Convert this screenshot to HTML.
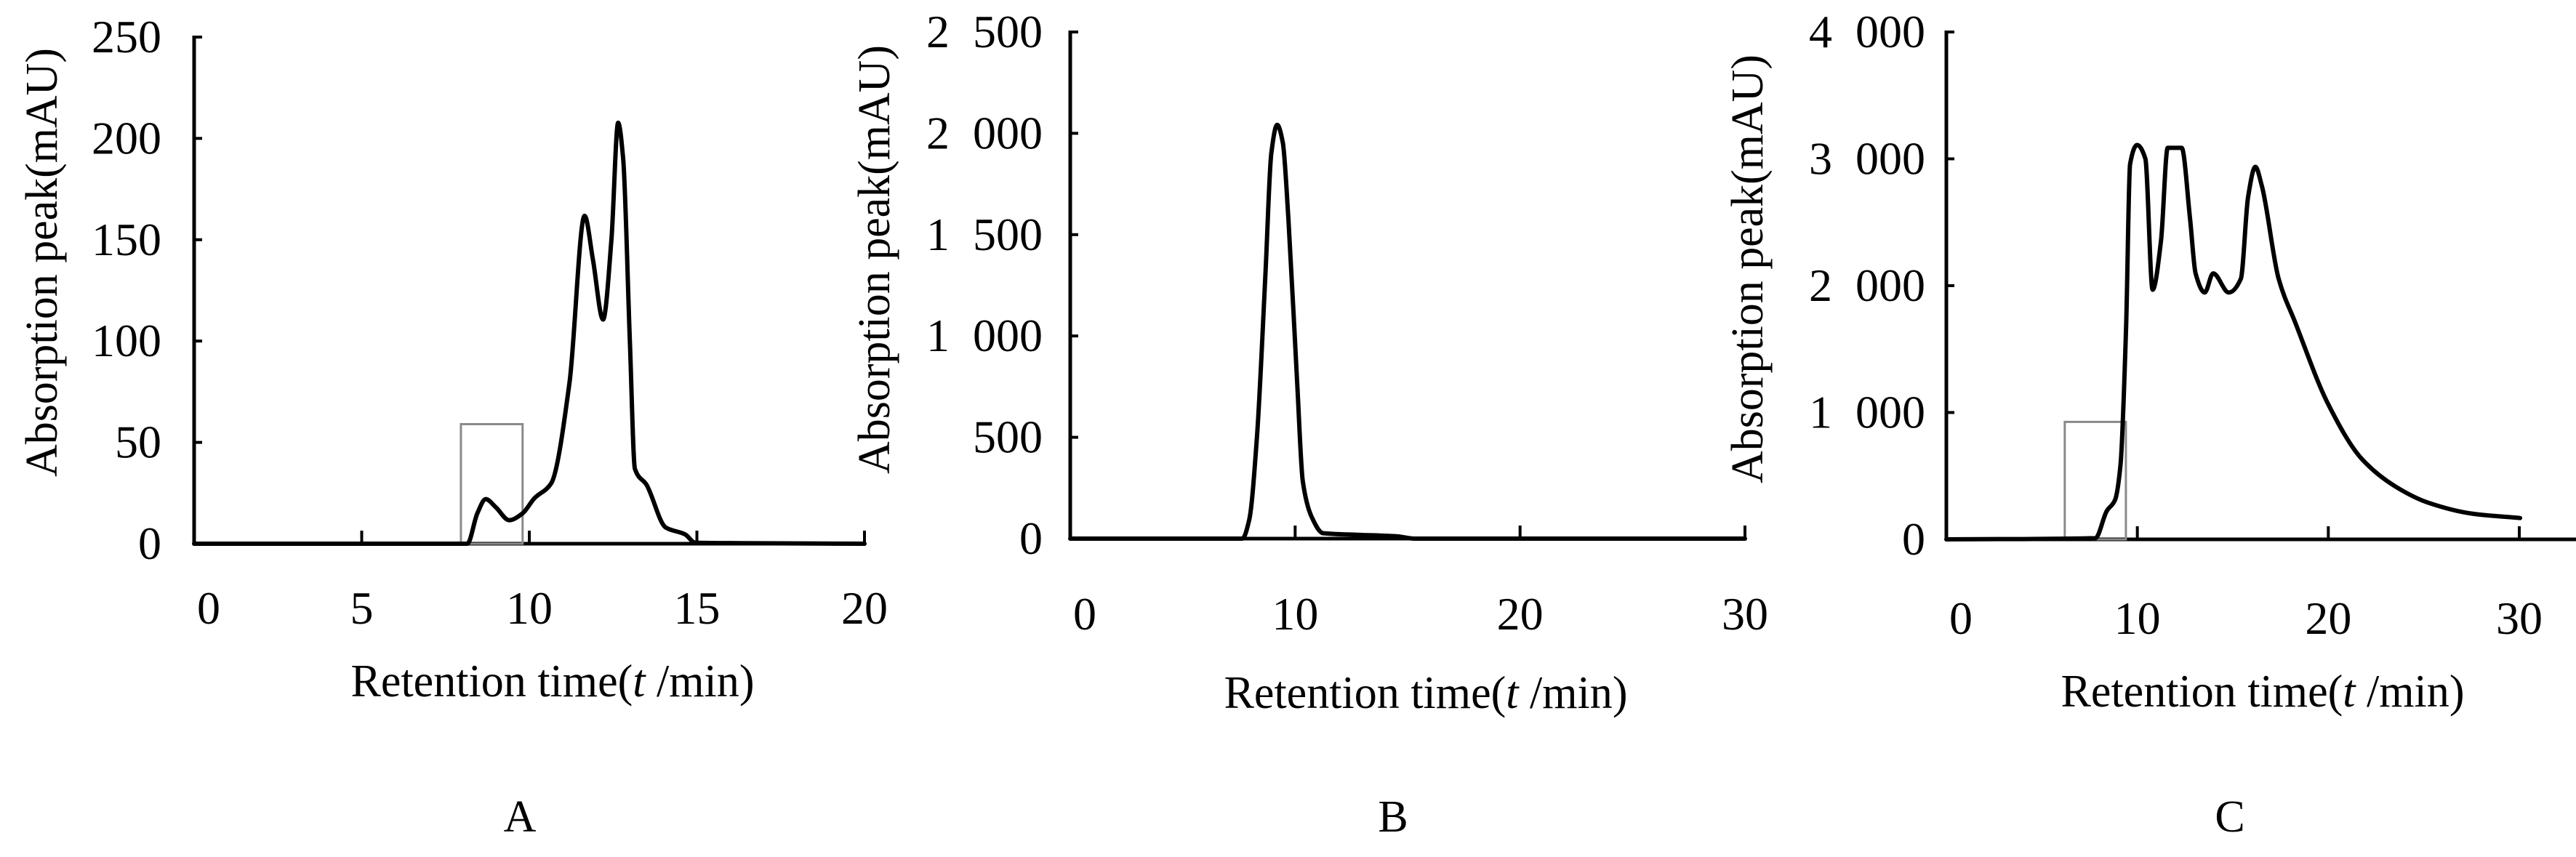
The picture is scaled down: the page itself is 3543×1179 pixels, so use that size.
<!DOCTYPE html>
<html><head><meta charset="utf-8"><style>
html,body{margin:0;padding:0;background:#fff;}
svg{display:block;font-family:"Liberation Serif",serif;}
text{white-space:pre;}
</style></head><body>
<svg id="fig" width="3543" height="1179" viewBox="0 0 3543 1179" xmlns="http://www.w3.org/2000/svg"></svg>
<script>
// Panel A data
const aTime = [0, 8.15, 8.45, 8.7, 9.0, 9.4, 9.8, 10.15, 10.65, 11.2, 11.65, 11.9, 12.2, 12.45, 12.65, 12.8, 13.0, 13.15, 13.5, 14.07, 14.65, 14.95, 16.0, 20];
const aValue = [0, 0, 15, 22, 18, 11.6, 15, 22.4, 29.7, 79.6, 161.8, 140, 110.6, 150, 207.7, 190, 100, 37, 29, 8, 4.6, 0.5, 0.3, 0];
const aYTicks = [0, 50, 100, 150, 200, 250];
const aYLabels = ["0", "50", "100", "150", "200", "250"];
const aXTicks = [0, 5, 10, 15, 20];
const aXLabels = ["0", "5", "10", "15", "20"];
const aBox = [7.96, 9.8, 59];
// Panel B data
const bTime = [0, 7.65, 7.96, 8.3, 8.68, 8.94, 9.2, 9.45, 9.7, 10.09, 10.34, 10.73, 11.24, 12.78, 14.57, 15.3, 30];
const bValue = [0, 0, 94, 499, 1308, 1901, 2042, 1955, 1578, 769, 283, 108, 27, 19, 11, 0, 0];
const bYTicks = [0, 500, 1000, 1500, 2000, 2500];
const bYLabels = ["0", "500", "1  000", "1  500", "2  000", "2  500"];
const bXTicks = [0, 10, 20, 30];
const bXLabels = ["0", "10", "20", "30"];
// Panel C data
const cTime = [0, 7.8, 8.4, 8.83, 9.12, 9.41, 9.62, 9.99, 10.42, 10.8, 11.24, 11.59, 12.32, 12.76, 13.05, 13.53, 13.97, 14.79, 15.42, 15.8, 16.18, 16.52, 17.4, 18.27, 20, 21.76, 23.5, 25.23, 27.56, 30.04];
const cValue = [0, 9, 224, 310, 590, 1666, 2958, 3109, 3001, 1968, 2355, 3087, 3087, 2528, 2097, 1946, 2097, 1946, 2054, 2700, 2937, 2786, 2054, 1709, 1064, 633, 418, 289, 202, 168];
const cYTicks = [0, 1000, 2000, 3000, 4000];
const cYLabels = ["0", "1  000", "2  000", "3  000", "4  000"];
const cXTicks = [0, 10, 20, 30];
const cXLabels = ["0", "10", "20", "30"];
const cBox = [6.2, 9.4, 926];

const NS = "http://www.w3.org/2000/svg";
const svg = document.getElementById('fig');
function el(tag, attrs, parent) {
  const e = document.createElementNS(NS, tag);
  for (const k in attrs) e.setAttribute(k, attrs[k]);
  (parent || svg).appendChild(e);
  return e;
}
// monotone cubic (Fritsch-Carlson) path
function monoPath(pts) {
  const n = pts.length;
  const dx = [], s = [];
  for (let i = 0; i < n - 1; i++) {
    dx.push(pts[i + 1][0] - pts[i][0]);
    s.push((pts[i + 1][1] - pts[i][1]) / dx[i]);
  }
  const m = [s[0]];
  for (let i = 1; i < n - 1; i++) {
    if (s[i - 1] * s[i] <= 0) m.push(0);
    else {
      const w1 = 2 * dx[i] + dx[i - 1], w2 = dx[i] + 2 * dx[i - 1];
      m.push((w1 + w2) / (w1 / s[i - 1] + w2 / s[i]));
    }
  }
  m.push(s[n - 2]);
  let d = "M" + pts[0][0] + "," + pts[0][1];
  for (let i = 0; i < n - 1; i++) {
    const h = dx[i] / 3;
    d += " C" + (pts[i][0] + h) + "," + (pts[i][1] + m[i] * h) + " " +
      (pts[i + 1][0] - h) + "," + (pts[i + 1][1] - m[i + 1] * h) + " " + pts[i + 1][0] + "," + pts[i + 1][1];
  }
  return d;
}
function panel(cfg) {
  const g = el('g', {});
  
  
  const x = v => cfg.x0 + (v - cfg.xmin) / (cfg.xmax - cfg.xmin) * (cfg.x1 - cfg.x0);
  const y = v => cfg.y0 - v / cfg.ymax * (cfg.y0 - cfg.y1);
  const ya = el('line', {x1: cfg.x0, y1: cfg.y1 - 2, x2: cfg.x0, y2: cfg.y0, stroke: '#000', 'stroke-width': 5}, g);
  
  
  const xa = el('line', {x1: cfg.x0 - 2, y1: cfg.y0, x2: cfg.axisEnd, y2: cfg.y0, stroke: '#000', 'stroke-width': 5}, g);
  
  
  cfg.yTicks.forEach((v, i) => {
    const t = el('line', {x1: cfg.x0, y1: y(v), x2: cfg.x0 + 11, y2: y(v), stroke: '#000', 'stroke-width': 4}, g);
    
    
    const lb = el('text', {x: cfg.yLabelRight, y: y(v) + 21, 'font-size': 64, 'text-anchor': 'end'}, g);
    
    
    lb.textContent = cfg.yLabels[i];
  });
  cfg.xTicks.forEach((v, i) => {
    if (v !== cfg.xmin) {
      const t = el('line', {x1: x(v), y1: cfg.y0, x2: x(v), y2: cfg.y0 - 18, stroke: '#000', 'stroke-width': 4}, g);
      
      
    }
    const lb = el('text', {x: x(v) + (v === cfg.xmin ? 20 : 0), y: cfg.xLabelY, 'font-size': 64, 'text-anchor': 'middle'}, g);
    
    
    lb.textContent = cfg.xLabels[i];
  });
  if (cfg.box) {
    const b = el('rect', {x: x(cfg.box[0]), y: y(cfg.box[2]), width: x(cfg.box[1]) - x(cfg.box[0]), height: cfg.y0 - y(cfg.box[2]), fill: 'none', stroke: '#8a8a8a', 'stroke-width': 3}, g);
    
    
  }
  const pts = cfg.t.map((tv, i) => [x(tv), y(cfg.v[i])]);
  const p = el('path', {d: monoPath(pts), fill: 'none', stroke: '#000', 'stroke-width': 6, 'stroke-linejoin': 'round', 'stroke-linecap': 'round'}, g);
  
  
  const yt = el('text', {x: 0, y: 0, 'font-size': 62, 'text-anchor': 'middle', textLength: 590, lengthAdjust: 'spacingAndGlyphs', transform: 'translate(' + (cfg.yTitleX + 21) + ',' + cfg.yTitleY + ') rotate(-90)'}, g);
  
  
  yt.textContent = 'Absorption peak(mAU)';
  const xt = el('text', {x: cfg.xTitleX, y: cfg.xTitleY, 'font-size': 64, 'text-anchor': 'middle', textLength: 555, lengthAdjust: 'spacingAndGlyphs'}, g);
  
  
  xt.innerHTML = 'Retention time(<tspan font-style="italic">t</tspan> /min)';
  const pl = el('text', {x: cfg.xTitleX - 45, y: 1144, 'font-size': 62, 'text-anchor': 'middle'}, g);
  
  
  pl.textContent = cfg.label;
}
panel({name: 'panel-a', label: 'A', x0: 267, x1: 1189, axisEnd: 1191, xmin: 0, xmax: 20, y0: 748, y1: 51, ymax: 250,
  t: aTime, v: aValue, yTicks: aYTicks, yLabels: aYLabels, xTicks: aXTicks, xLabels: aXLabels, box: aBox,
  yLabelRight: 222, xLabelY: 858, yTitleX: 57, yTitleY: 361, xTitleX: 760, xTitleY: 958});
panel({name: 'panel-b', label: 'B', x0: 1472, x1: 2400, axisEnd: 2402, xmin: 0, xmax: 30, y0: 741, y1: 44, ymax: 2500,
  t: bTime, v: bValue, yTicks: bYTicks, yLabels: bYLabels, xTicks: bXTicks, xLabels: bXLabels, box: null,
  yLabelRight: 1434, xLabelY: 866, yTitleX: 1202, yTitleY: 357, xTitleX: 1961, xTitleY: 974});
panel({name: 'panel-c', label: 'C', x0: 2677, x1: 3465, axisEnd: 3543, xmin: 0, xmax: 30, y0: 742, y1: 44, ymax: 4000,
  t: cTime, v: cValue, yTicks: cYTicks, yLabels: cYLabels, xTicks: cXTicks, xLabels: cXLabels, box: cBox,
  yLabelRight: 2648, xLabelY: 872, yTitleX: 2403, yTitleY: 370, xTitleX: 3112, xTitleY: 972});
</script>
</body></html>
